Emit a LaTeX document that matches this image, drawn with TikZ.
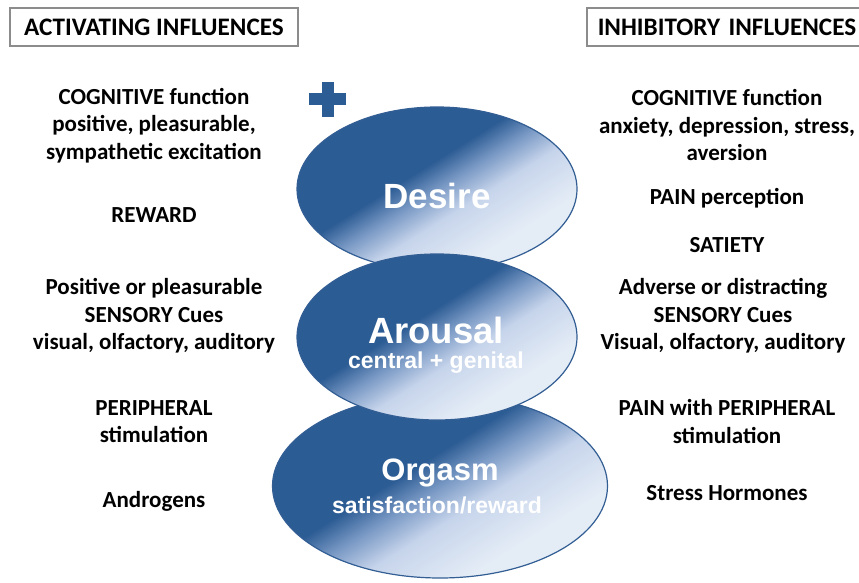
\documentclass[tikz,border=0pt]{standalone}
\usepackage{fontspec}
\setmainfont{Carlito}
\newfontfamily\stagefont{Liberation Sans}
\usetikzlibrary{shapes.geometric}

\definecolor{bdark}{RGB}{44,92,148}
\definecolor{bmid}{RGB}{120,152,196}
\definecolor{blight}{RGB}{198,212,235}
\definecolor{blighter}{RGB}{228,236,246}
\definecolor{bedge}{RGB}{50,94,148}

% dark upper-left, light lower-right
\pgfdeclarehorizontalshading{stageshade}{100bp}{%
  color(0bp)=(bdark); color(44bp)=(bdark); color(50bp)=(bmid);
  color(57bp)=(blight); color(69bp)=(blighter); color(100bp)=(blighter)}

\begin{document}
\begin{tikzpicture}[x=1pt,y=-1pt,
  side/.style={font=\bfseries\fontsize{23}{27.5}\selectfont, align=center, text=black, inner sep=0},
  headbox/.style={draw=black!45, line width=1.5pt, fill=white, minimum height=38,
    font=\bfseries\fontsize{25.2}{28}\selectfont},
  stage/.style={ellipse, draw=bedge, line width=1.2pt, shading=stageshade,
    shading angle=-58, inner sep=0},
  stagetitle/.style={text=white, inner sep=0, font=\stagefont\bfseries\fontsize{35}{38}\selectfont},
  stagesub/.style={text=white, inner sep=0, font=\stagefont\bfseries\fontsize{23}{25}\selectfont}]
\useasboundingbox (0,0) rectangle (859,583);

% column headings
\node[headbox, minimum width=288] (acthead) at (154,27) {ACTIVATING INFLUENCES};
\node[headbox, anchor=west, minimum width=290, inner xsep=11, text width=268, align=left]
  (inhhead) at (586,27) {INHIBITORY INFLUENCES};

% plus sign
\fill[bdark] (321.5,82) rectangle (333.5,117.5);
\fill[bdark] (309,93.5) rectangle (346,105.5);

% the three stages
\node[stage, minimum width=280, minimum height=164] (desire) at (437,189) {};
\node[stage, minimum width=335, minimum height=184] (orgasm) at (440,486) {};
\node[stage, minimum width=280, minimum height=166] (arousal) at (437,337) {};

\node[stagetitle] (desiret) at (437,196) {Desire};
\node[stagetitle, font=\stagefont\bfseries\fontsize{36.5}{38}\selectfont] (arousalt) at (436,330) {Arousal};
\node[stagesub] (arousals) at (436,363) {central + genital};
\node[stagetitle, font=\stagefont\bfseries\fontsize{31}{34}\selectfont] (orgasmt) at (440,473) {Orgasm};
\node[stagesub] (orgasms) at (437,505) {satisfaction/reward};

% activating influences
\node[side] (a1) at (154,125.5) {COGNITIVE function\\positive, pleasurable,\\sympathetic excitation};
\node[side] (a2) at (154,215) {REWARD};
\node[side] (a3) at (154,316) {Positive or pleasurable\\SENSORY Cues\\visual, olfactory, auditory};
\node[side] (a4) at (154,421.5) {PERIPHERAL\\stimulation};
\node[side] (a5) at (154,501) {Androgens};

% inhibitory influences
\node[side] (i1) at (727,125) {COGNITIVE function\\anxiety, depression, stress,\\aversion};
\node[side] (i2) at (727,198) {PAIN perception};
\node[side] (i3) at (727,245) {SATIETY};
\node[side] (i4) at (723,316) {Adverse or distracting\\SENSORY Cues\\Visual, olfactory, auditory};
\node[side] (i5) at (727,421.5) {PAIN with PERIPHERAL\\stimulation};
\node[side] (i6) at (727,493) {Stress Hormones};
\end{tikzpicture}
\end{document}
